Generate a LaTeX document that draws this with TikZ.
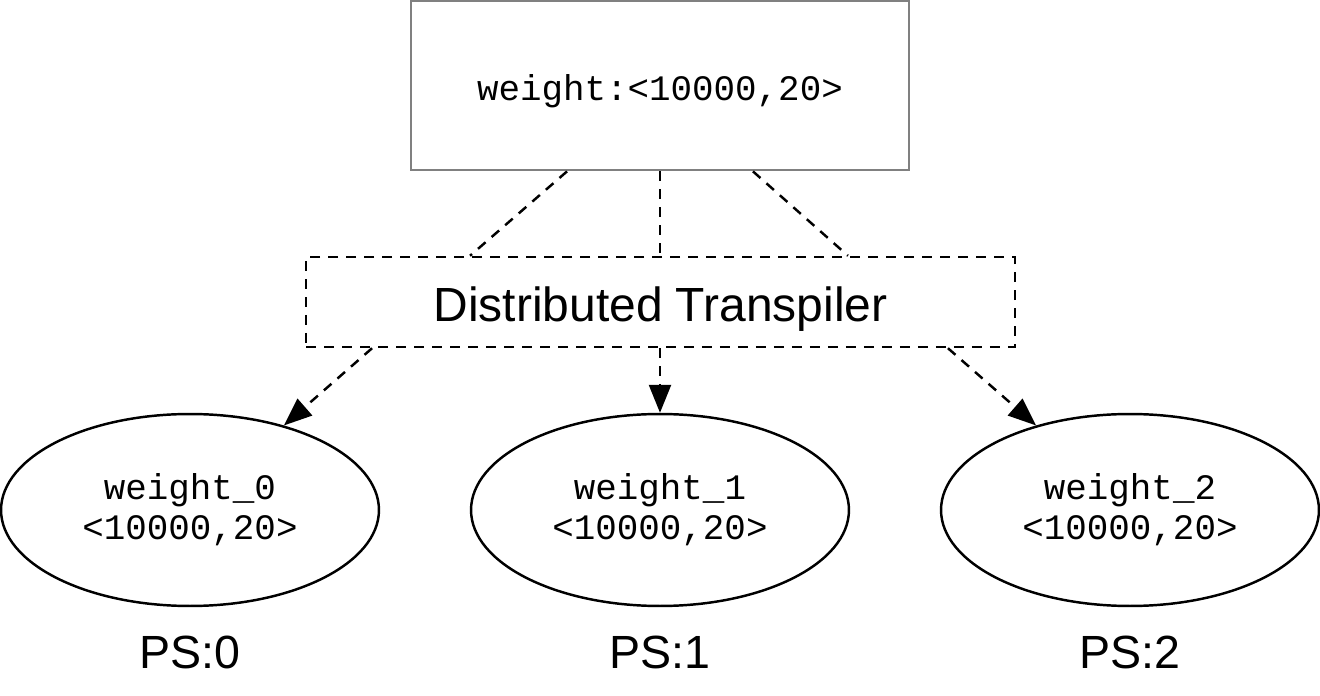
\documentclass[tikz,border=0pt]{standalone}
\usepackage{fontspec}
\setmainfont{Liberation Sans}
\setmonofont{Liberation Mono}
\usetikzlibrary{shapes.geometric,arrows.meta}

\begin{document}
\begin{tikzpicture}[x=0.02cm,y=-0.02cm,
    varbox/.style={rectangle,draw=gray,line width=1.6pt,minimum width=9.96cm,minimum height=3.38cm,
      text height=0.62cm,text depth=0cm,font=\ttfamily\fontsize{20.4}{24}\selectfont},
    splitbox/.style={rectangle,draw,line width=1.4pt,dash pattern=on 0.2cm off 0.16cm,
      minimum width=14.18cm,minimum height=1.8cm,text height=0.78cm,text depth=0cm,
      font=\fontsize{27.3}{31}\selectfont},
    shard/.style={ellipse,draw,line width=1.4pt,minimum width=7.56cm,minimum height=3.84cm,
      inner sep=0pt,align=center,font=\ttfamily\fontsize{20.4}{22.8}\selectfont},
    server/.style={font=\fontsize{26.5}{30}\selectfont},
    link/.style={draw,line width=1.4pt,dash pattern=on 0.2cm off 0.16cm},
    split/.style={link,-{Triangle[length=0.56cm,width=0.44cm]}}]

        \useasboundingbox (0,0) rectangle (1320,696);

        \node[varbox]   (wt) at (660,85.5) {weight:<10000,20>};
        \node[splitbox] (dt) at (660.5,302) {Distributed Transpiler};

        \node[shard] (w0) at (190,510)  {weight\_0\\<10000,20>};
        \node[shard] (w1) at (660,510)  {weight\_1\\<10000,20>};
        \node[shard] (w2) at (1130,510) {weight\_2\\<10000,20>};

        \node[server] (ps0) at (190,652)  {PS:0};
        \node[server] (ps1) at (660,652)  {PS:1};
        \node[server] (ps2) at (1130,652) {PS:2};

        \begin{scope}[every edge/.style={link}]
          \path ([xshift=-1.86cm]wt.south) edge ([xshift=-3.81cm]dt.north);
          \path (wt.south)                 edge (wt.south |- dt.north);
          \path ([xshift=1.86cm]wt.south)  edge ([xshift=3.75cm]dt.north);
        \end{scope}

        \begin{scope}[every edge/.style={split}]
          \path ([xshift=-5.77cm]dt.south) edge (w0.42);
          \path (w1.north |- dt.south)     edge (w1.north);
          \path ([xshift=5.75cm]dt.south)  edge (w2.138);
        \end{scope}

\end{tikzpicture}
\end{document}
